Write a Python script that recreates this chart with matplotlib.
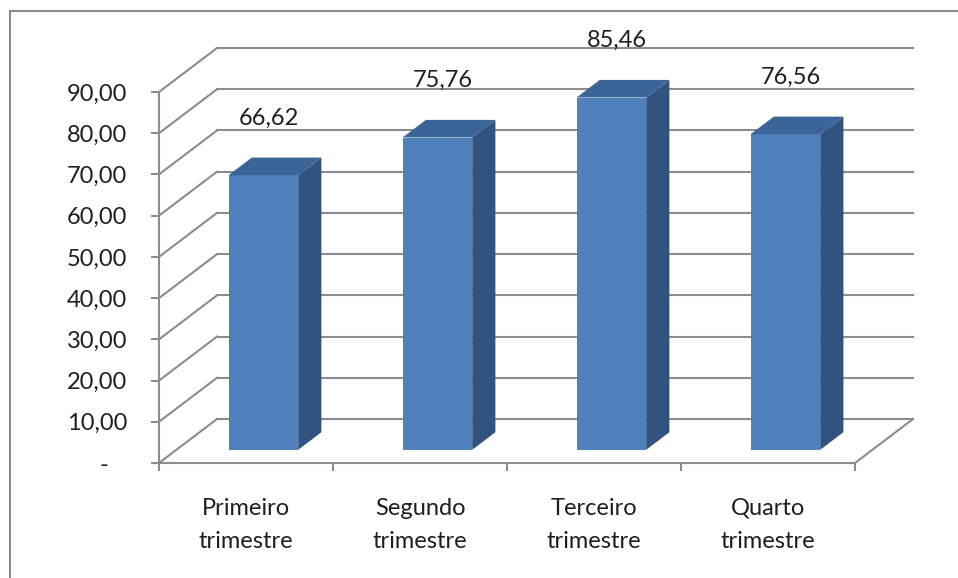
import matplotlib
matplotlib.use("Agg")
import matplotlib.pyplot as plt
from matplotlib.patches import Polygon, Rectangle
import numpy as np

plt.rcParams['font.family'] = ['Lato', 'DejaVu Sans']

# data
categories = ["Primeiro\ntrimestre", "Segundo\ntrimestre", "Terceiro\ntrimestre", "Quarto\ntrimestre"]
values = [66.62, 75.76, 85.46, 76.56]
y_ticks = [0, 10, 20, 30, 40, 50, 60, 70, 80, 90]

# style / projection
FRONT = '#4F81BD'
SIDE = '#32537F'
TOP = '#3B6498'
GRID = '#8C8C8C'
TEXT = '#1F1F1F'
FS = 17
DX = 1 / 3          # depth shift in category units
DY = 10.67          # depth shift in value units
D0, D1 = 0.3, 0.7   # bar depth range (fraction of floor depth)
W = 0.40            # bar width

fig = plt.figure(figsize=(9.58, 5.78), dpi=100)
ax = fig.add_axes([159 / 958, (578 - 463) / 578, 696 / 958, 371 / 578])
ax.set_xlim(0, 4)
ax.set_ylim(0, 90)
ax.set_facecolor('none')

# chart area border
fig.patches.append(Rectangle((10 / 958, -0.1), 1.2, 1.1 - 11 / 578, transform=fig.transFigure,
                             fill=False, edgecolor=GRID, linewidth=1.5))

# back wall + side wall gridlines
n = len(categories)
for v in y_ticks:
    ax.plot([DX, n + DX], [v + DY, v + DY], color=GRID, lw=1.5, clip_on=False, zorder=1)
    ax.plot([0, DX], [v, v + DY], color=GRID, lw=1.5, clip_on=False, zorder=1)
# floor right edge
ax.plot([n, n + DX], [0, DY], color=GRID, lw=1.5, clip_on=False, zorder=1)

# bars
for i, v in enumerate(values):
    x0 = i + 0.5 - W / 2 + D0 * DX
    x1 = x0 + W
    y0 = D0 * DY
    ddx = (D1 - D0) * DX
    ddy = (D1 - D0) * DY
    front = Polygon([(x0, y0), (x1, y0), (x1, y0 + v), (x0, y0 + v)], closed=True,
                    facecolor=FRONT, edgecolor='none', zorder=3, clip_on=False)
    side = Polygon([(x1, y0), (x1 + ddx, y0 + ddy), (x1 + ddx, y0 + ddy + v), (x1, y0 + v)], closed=True,
                   facecolor=SIDE, edgecolor='none', zorder=3, clip_on=False)
    top = Polygon([(x0, y0 + v), (x1, y0 + v), (x1 + ddx, y0 + ddy + v), (x0 + ddx, y0 + ddy + v)], closed=True,
                  facecolor=TOP, edgecolor='none', zorder=3, clip_on=False)
    for p in (front, side, top):
        ax.add_patch(p)
    ax.text(i + 0.5 + 0.4 * DX, v + D1 * DY + 9.5, f"{v:.2f}".replace('.', ','),
            ha='center', va='center', fontsize=FS, color=TEXT, zorder=4, clip_on=False)

# axes
for s in ('top', 'right'):
    ax.spines[s].set_visible(False)
for s in ('left', 'bottom'):
    ax.spines[s].set_color(GRID)
    ax.spines[s].set_linewidth(1.5)
    ax.spines[s].set_zorder(2)

ax.set_yticks(y_ticks)
ax.set_yticklabels([(f"{t:.2f}".replace('.', ',') if t else "-   ") for t in y_ticks])
ax.tick_params(axis='y', direction='out', length=5.8, width=1.5, color=GRID,
               labelsize=FS, labelcolor=TEXT, pad=17)

ax.set_xticks(np.arange(0, n + 1))
ax.set_xticklabels([])
ax.tick_params(axis='x', which='major', direction='out', length=5.8, width=1.5, color=GRID)
ax.set_xticks(np.arange(n) + 0.5, minor=True)
ax.set_xticklabels(categories, minor=True, fontsize=FS, color=TEXT, linespacing=1.7)
ax.tick_params(axis='x', which='minor', length=0, pad=25)

fig.savefig("out.png", dpi=100)
